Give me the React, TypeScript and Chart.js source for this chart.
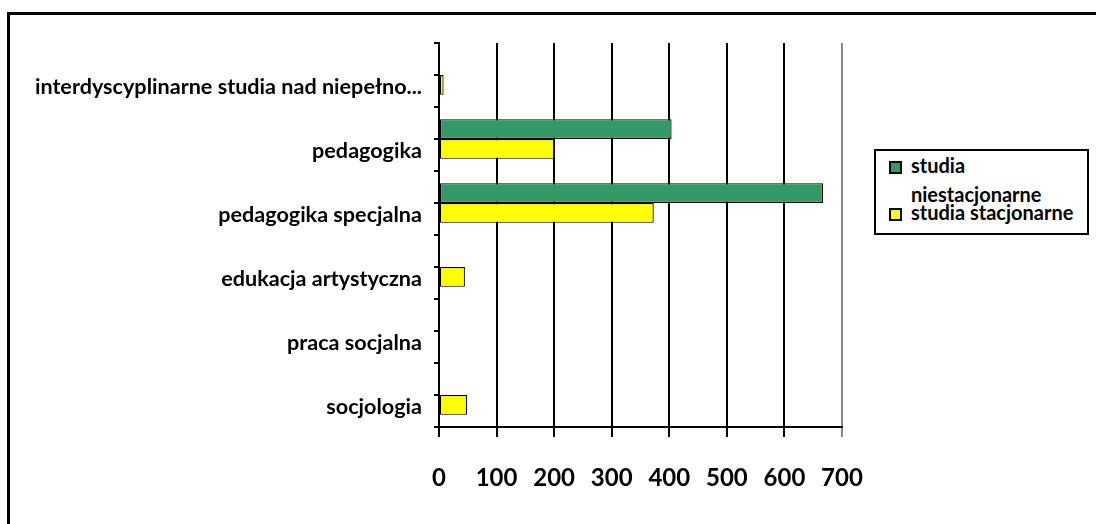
import React, { useEffect, useRef } from "react";
import { Chart, registerables } from "chart.js";

Chart.register(...registerables);

const categories = [
  "interdyscyplinarne studia nad niepełno...",
  "pedagogika",
  "pedagogika specjalna",
  "edukacja artystyczna",
  "praca socjalna",
  "socjologia",
];
const seriesNames = ["studia niestacjonarne", "studia stacjonarne"];
const niestacjonarne = [0, 404, 667, 0, 0, 0];
const stacjonarne = [8, 200, 373, 45, 0, 49];
const xTicks = [0, 100, 200, 300, 400, 500, 600, 700];
const colors = ["#339966", "#FFFF00"];

const LABEL_FONT = "Lato, 'Open Sans', sans-serif";

const minorTicks = {
  id: "minorTicks",
  afterDraw(chart: any) {
    const y = chart.scales.y;
    const left = chart.chartArea.left;
    const ctx = chart.ctx;
    ctx.save();
    ctx.strokeStyle = "#000";
    ctx.lineWidth = 2;
    for (let i = 0; i < categories.length; i++) {
      const py = y.getPixelForValue(i);
      ctx.beginPath();
      ctx.moveTo(left - 5, py);
      ctx.lineTo(left, py);
      ctx.stroke();
    }
    ctx.restore();
  },
};

export default function App() {
  const ref = useRef<HTMLCanvasElement | null>(null);
  useEffect(() => {
    if (!ref.current) return;
    const chart = new Chart(ref.current, {
      type: "bar",
      data: {
        labels: categories,
        datasets: [
          {
            label: seriesNames[0],
            data: niestacjonarne,
            backgroundColor: colors[0],
            borderColor: "#000",
            borderWidth: 1.2,
            borderSkipped: false,
            barPercentage: 1,
            categoryPercentage: 0.62,
          },
          {
            label: seriesNames[1],
            data: stacjonarne,
            backgroundColor: colors[1],
            borderColor: "#000",
            borderWidth: 1.2,
            borderSkipped: false,
            barPercentage: 1,
            categoryPercentage: 0.62,
          },
        ],
      },
      options: {
        indexAxis: "y",
        responsive: false,
        animation: false,
        layout: { padding: { top: 43, right: 254, left: 0, bottom: 0 } },
        plugins: { legend: { display: false }, tooltip: { enabled: false } },
        scales: {
          x: {
            type: "linear",
            min: 0,
            max: 700,
            afterBuildTicks: (scale: any) => {
              scale.ticks = xTicks.map((v) => ({ value: v }));
            },
            afterFit: (scale: any) => {
              scale.height = 97;
            },
            grid: {
              color: (ctx: any) => (ctx.tick && ctx.tick.value === 700 ? "#888888" : "#000000"),
              lineWidth: 2,
              tickLength: 10,
              drawTicks: true,
            },
            border: { display: true, color: "#000", width: 2 },
            ticks: {
              color: "#000",
              padding: 27,
              maxRotation: 0,
              font: { family: LABEL_FONT, size: 24, weight: "bold" },
            },
          },
          y: {
            type: "category",
            afterFit: (scale: any) => {
              scale.width = 439;
            },
            grid: {
              drawOnChartArea: false,
              offset: true,
              tickLength: 5,
              color: "#000",
              lineWidth: 2,
            },
            border: { display: true, color: "#000", width: 2 },
            ticks: {
              color: "#000",
              padding: 12,
              labelOffset: 12,
              autoSkip: false,
              font: { family: LABEL_FONT, size: 21.6, weight: "bold" },
            },
          },
        },
      },
      plugins: [minorTicks],
    } as any);
    return () => chart.destroy();
  }, []);

  const legendText: React.CSSProperties = {
    position: "absolute",
    left: 911,
    width: 176,
    fontFamily: LABEL_FONT,
    fontWeight: 700,
    fontSize: 20,
    color: "#000",
    whiteSpace: "normal",
  };
  const square = (c: string, top: number): React.CSSProperties => ({
    position: "absolute",
    left: 889,
    top,
    width: 13,
    height: 13,
    boxSizing: "border-box",
    border: "2px solid #000",
    background: c,
  });

  return (
    <div
      style={{
        position: "absolute",
        left: 0,
        top: 0,
        width: 1096,
        height: 524,
        overflow: "hidden",
        background: "#fff",
      }}
    >
      <canvas ref={ref} width={1096} height={524} style={{ position: "absolute", left: 0, top: 0 }} />
      <div
        style={{
          position: "absolute",
          left: 7,
          top: 12,
          width: 1200,
          height: 600,
          border: "3px solid #000",
          pointerEvents: "none",
        }}
      />
      <div
        style={{
          position: "absolute",
          left: 874,
          top: 149,
          width: 215,
          height: 86,
          boxSizing: "border-box",
          border: "2px solid #000",
          background: "#fff",
        }}
      />
      <div style={square(colors[0], 161)} />
      <div style={{ ...legendText, top: 151, lineHeight: "29px" }}>{seriesNames[0]}</div>
      <div style={square(colors[1], 208)} />
      <div style={{ ...legendText, top: 200, lineHeight: "24px", whiteSpace: "nowrap" }}>{seriesNames[1]}</div>
    </div>
  );
}
